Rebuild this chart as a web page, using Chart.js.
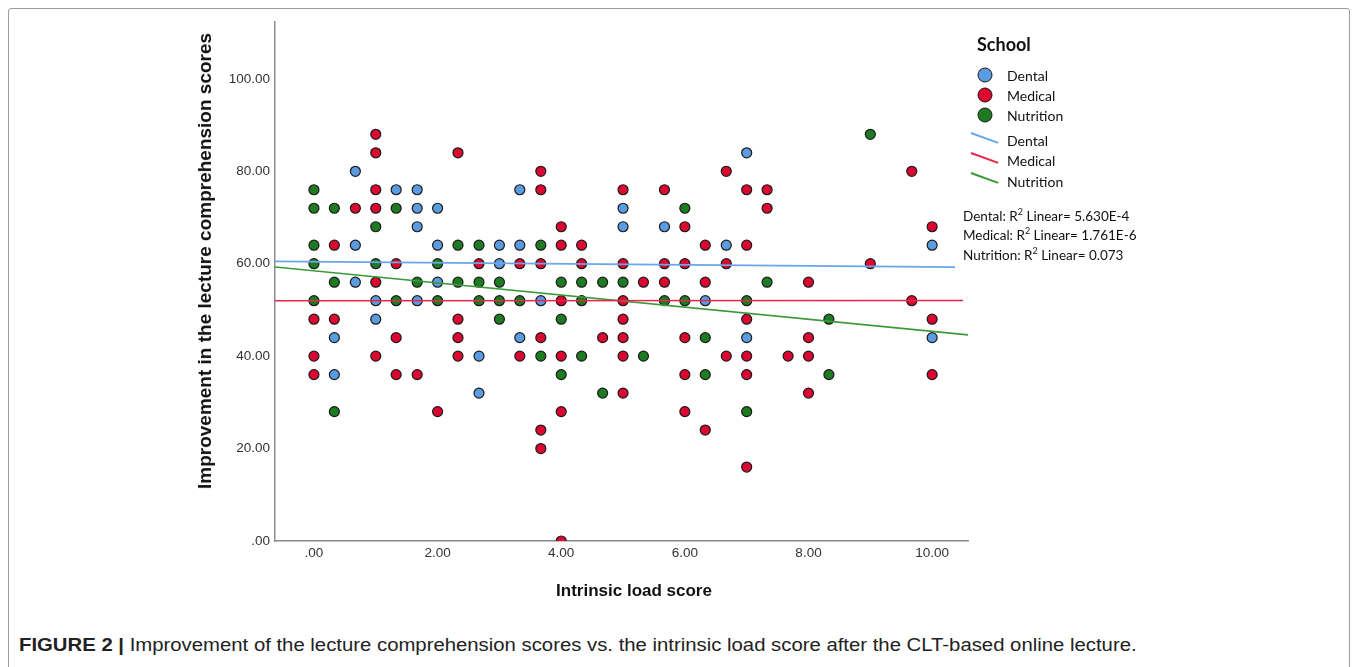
<!DOCTYPE html>
<html>
<head>
<meta charset="utf-8">
<script src="https://cdn.jsdelivr.net/npm/chart.js@4/dist/chart.umd.min.js"></script>
<style>
  html, body { margin: 0; padding: 0; background: #fff; }
  body { width: 1357px; height: 667px; position: relative; overflow: hidden; font-family: 'Liberation Sans', Arial, sans-serif; }
  #frame { position: absolute; left: 8px; top: 8px; width: 1340px; height: 720px; border: 1.5px solid #9c9c9c; border-radius: 3px; }
  #chart { position: absolute; left: 0; top: 0; }
  .ytitle { position: absolute; left: 205px; top: 261px; transform: translate(-50%, -50%) rotate(-90deg); white-space: nowrap; font-weight: bold; font-size: 19px; color: #111; }
  .xtitle { position: absolute; left: 634px; top: 591px; transform: translate(-50%, -50%); white-space: nowrap; font-weight: bold; font-size: 17px; color: #111; }
  .leg { position: absolute; font-family: Lato, 'Open Sans', sans-serif; color: #111; white-space: nowrap; }
  .leg-head { left: 977px; top: 33px; font-size: 18px; font-weight: bold; }
  .leg-item { left: 1007px; font-size: 14px; transform: translateY(-50%); }
  .dot { position: absolute; width: 13px; height: 13px; border-radius: 50%; border: 1.3px solid #1a1a1a; transform: translate(-50%, -50%); }
  .seg { position: absolute; width: 29px; height: 1.6px; transform-origin: 0 50%; transform: rotate(20deg); }
  .r2 { left: 963px; font-size: 13.5px; transform: translateY(-50%); }
  #caption { position: absolute; left: 19px; top: 646px; transform-origin: 0 50%; white-space: nowrap; font-family: 'Liberation Sans Narrow', 'Liberation Sans', Arial, sans-serif; font-size: 17.5px; color: #222; line-height: 1; margin-top: -9px; }
</style>
</head>
<body>
<div id="frame"></div>
<canvas id="chart" width="1357" height="620"></canvas>

<div class="ytitle">Improvement in the lecture comprehension scores</div>
<div class="xtitle">Intrinsic load score</div>

<div class="leg leg-head">School</div>
<div class="dot" style="left:985px;top:75px;background:#5b9bdf"></div>
<div class="dot" style="left:985px;top:95px;background:#dc0730"></div>
<div class="dot" style="left:985px;top:115px;background:#1e7b22"></div>
<div class="leg leg-item" style="top:75px">Dental</div>
<div class="leg leg-item" style="top:95px">Medical</div>
<div class="leg leg-item" style="top:115px">Nutrition</div>
<div class="seg" style="left:971px;top:132px;background:#6aa6ea"></div>
<div class="seg" style="left:971px;top:152px;background:#e8254a"></div>
<div class="seg" style="left:971px;top:172px;background:#3a9a3a"></div>
<div class="leg leg-item" style="top:140px">Dental</div>
<div class="leg leg-item" style="top:160px">Medical</div>
<div class="leg leg-item" style="top:181px">Nutrition</div>
<div class="leg r2" style="top:215px">Dental: R<sup style="font-size:9px">2</sup> Linear= 5.630E-4</div>
<div class="leg r2" style="top:234px">Medical: R<sup style="font-size:9px">2</sup> Linear= 1.761E-6</div>
<div class="leg r2" style="top:254px">Nutrition: R<sup style="font-size:9px">2</sup> Linear= 0.073</div>

<div id="caption"><b>FIGURE 2 |</b> Improvement of the lecture comprehension scores vs. the intrinsic load score after the CLT-based online lecture.</div>

<script>
'use strict';

// ─── Data ─────────────────────────────────────────────────────────────────────

const xTickValues = [0, 2, 4, 6, 8, 10];
const yTickValues = [0, 20, 40, 60, 80, 100];

const dentalX = [0.33, 0.33, 0.67, 0.67, 0.67, 1, 1, 1.33, 1.67, 1.67, 1.67, 1.67,
  2, 2, 2, 2.67, 2.67, 3, 3, 3.33, 3.33, 3.33, 3.67, 5, 5, 5.67, 6.33, 6.67, 7, 7, 10, 10];
const dentalY = [44, 36, 80, 64, 56, 52, 48, 76, 76, 72, 68, 52,
  72, 64, 56, 40, 32, 64, 60, 76, 64, 44, 52, 72, 68, 68, 52, 64, 84, 44, 64, 44];

const medicalX = [0, 0, 0, 0.33, 0.33, 0.67, 1, 1, 1, 1, 1, 1, 1.33, 1.33, 1.33, 1.67, 2,
  2.33, 2.33, 2.33, 2.33, 2.67, 3.33, 3.33, 3.67, 3.67, 3.67, 3.67, 3.67, 3.67,
  4, 4, 4, 4, 4, 4, 4.33, 4.33, 4.67, 5, 5, 5, 5, 5, 5, 5, 5.33, 5.67, 5.67, 5.67,
  6, 6, 6, 6, 6, 6.33, 6.33, 6.33, 6.67, 6.67, 6.67, 7, 7, 7, 7, 7, 7,
  7.33, 7.33, 7.67, 8, 8, 8, 8, 9, 9.67, 9.67, 10, 10, 10];
const medicalY = [48, 40, 36, 64, 48, 72, 88, 84, 76, 72, 56, 40, 60, 44, 36, 36, 28,
  84, 48, 44, 40, 60, 60, 40, 80, 76, 60, 44, 24, 20,
  68, 64, 52, 40, 28, 0, 64, 60, 44, 76, 60, 52, 48, 44, 40, 32, 56, 76, 60, 56,
  68, 60, 44, 36, 28, 64, 56, 24, 80, 60, 40, 76, 64, 48, 40, 36, 16,
  76, 72, 40, 56, 44, 40, 32, 60, 80, 52, 68, 48, 36];

const nutritionX = [0, 0, 0, 0, 0, 0.33, 0.33, 0.33, 1, 1, 1.33, 1.33, 1.67, 2, 2,
  2.33, 2.33, 2.67, 2.67, 2.67, 3, 3, 3, 3.33, 3.67, 3.67, 4, 4, 4, 4.33, 4.33, 4.33,
  4.67, 4.67, 5, 5.33, 5.67, 6, 6, 6.33, 6.33, 7, 7, 7.33, 8.33, 8.33, 9];
const nutritionY = [76, 72, 64, 60, 52, 72, 56, 28, 68, 60, 72, 52, 56, 60, 52,
  64, 56, 64, 56, 52, 56, 52, 48, 52, 64, 40, 56, 48, 36, 56, 52, 40,
  56, 32, 56, 40, 52, 72, 52, 44, 36, 52, 28, 56, 48, 36, 88];

// fit lines as drawn in the figure (end points)
const dentalFitX = [-0.63, 10.37];
const dentalFitY = [60.5, 59.25];
const medicalFitX = [-0.63, 10.5];
const medicalFitY = [52.0, 52.05];
const nutritionFitX = [-0.63, 10.58];
const nutritionFitY = [59.3, 44.6];

// ─── Helpers ──────────────────────────────────────────────────────────────────

function pairs(xs, ys) {
  return xs.map((x, i) => ({ x, y: ys[i] }));
}

function fmtTick(v) {
  const s = v.toFixed(2);
  return v === 0 ? s.slice(1) : s;
}

function pointSet(label, xs, ys, color) {
  return {
    type: 'scatter',
    label,
    data: pairs(xs, ys),
    backgroundColor: color,
    borderColor: '#1a1a1a',
    borderWidth: 1.2,
    pointRadius: 5,
    clip: 0,
    order: 2,
  };
}

function fitSet(label, xs, ys, color) {
  return {
    type: 'line',
    label,
    data: pairs(xs, ys),
    borderColor: color,
    borderWidth: 1.6,
    pointRadius: 0,
    fill: false,
    clip: 0,
    order: 1,
  };
}

// ─── Chart ────────────────────────────────────────────────────────────────────

const tickFont = { family: "'Liberation Sans', Arial, sans-serif", size: 13.5 };

new Chart(document.getElementById('chart'), {
  type: 'scatter',
  data: {
    datasets: [
      pointSet('Nutrition', nutritionX, nutritionY, '#1e7b22'),
      pointSet('Dental', dentalX, dentalY, '#5b9bdf'),
      pointSet('Medical', medicalX, medicalY, '#dc0730'),
      fitSet('Dental fit', dentalFitX, dentalFitY, '#6aa6ea'),
      fitSet('Medical fit', medicalFitX, medicalFitY, '#e8254a'),
      fitSet('Nutrition fit', nutritionFitX, nutritionFitY, '#3a9a3a'),
    ],
  },
  options: {
    responsive: false,
    devicePixelRatio: 1,
    animation: false,
    layout: { padding: { left: 215, right: 389, top: 22, bottom: 49 } },
    plugins: { legend: { display: false }, tooltip: { enabled: false } },
    scales: {
      x: {
        type: 'linear',
        min: -0.63,
        max: 10.58,
        afterBuildTicks: s => { s.ticks = xTickValues.map(v => ({ value: v })); },
        afterFit: s => { s.height = 30; },
        ticks: { callback: v => fmtTick(v), font: tickFont, color: '#333', padding: 4, maxRotation: 0 },
        grid: { display: false, drawTicks: false },
        border: { display: true, color: '#8c8c8c', width: 1.5 },
      },
      y: {
        type: 'linear',
        min: 0,
        max: 112.3,
        afterBuildTicks: s => { s.ticks = yTickValues.map(v => ({ value: v })); },
        afterFit: s => { s.width = 60; },
        ticks: { callback: v => fmtTick(v), font: tickFont, color: '#333', padding: 5 },
        grid: { display: false, drawTicks: false },
        border: { display: true, color: '#8c8c8c', width: 1.5 },
      },
    },
  },
});

// ─── Caption width ────────────────────────────────────────────────────────────

const caption = document.getElementById('caption');
caption.style.transform = 'scaleX(' + (1118 / caption.offsetWidth) + ')';
</script>
</body>
</html>
